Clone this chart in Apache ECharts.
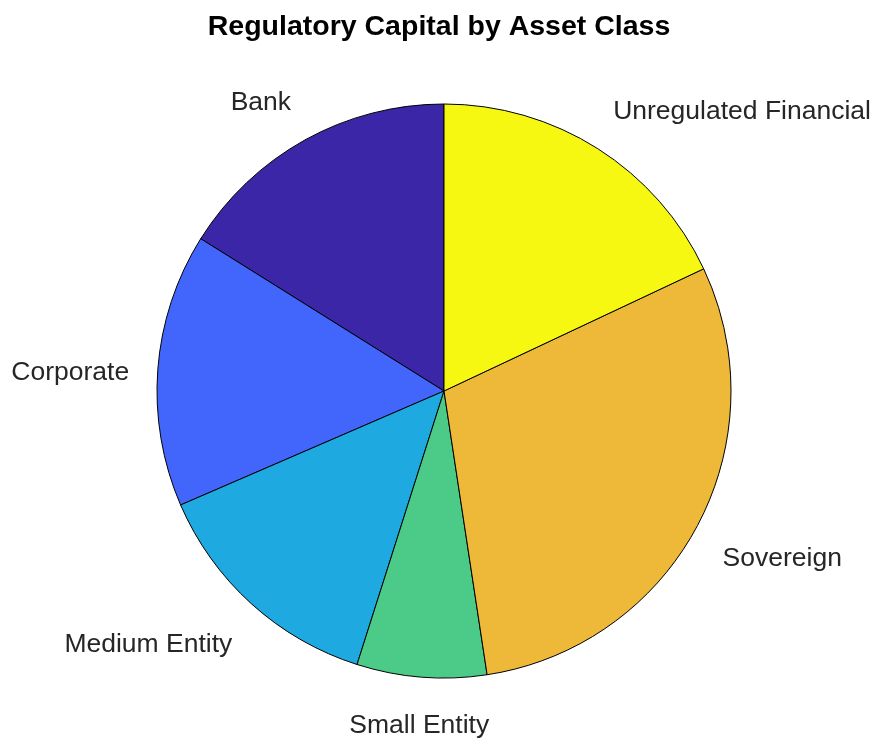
<!DOCTYPE html>
<html>
<head>
<meta charset="utf-8">
<title>Regulatory Capital by Asset Class</title>
<script src="https://cdn.jsdelivr.net/npm/echarts@6/dist/echarts.min.js"></script>
<style>
  html, body { margin: 0; padding: 0; background: #ffffff; }
  #chart { width: 878px; height: 741px; }
</style>
</head>
<body>
<div id="chart"></div>
<script>
// Asset classes, in drawing order (counter-clockwise from 12 o'clock)
const categories = ['Bank', 'Corporate', 'Medium Entity', 'Small Entity', 'Sovereign', 'Unregulated Financial'];
// Share of regulatory capital (%)
const capitalShare = [16.1, 15.4, 13.6, 7.3, 29.6, 18.0];
// Parula-style slice colours
const sliceColors = ['#3c26a8', '#4266fb', '#1ea9e0', '#4bcb87', '#eeb838', '#f6f812'];

const chart = echarts.init(document.getElementById('chart'), null, { renderer: 'canvas' });

const RADIUS = 287;
const START_ANGLE = 90;

// Mid angle (degrees, counter-clockwise) of each slice, used to pick label alignment
const total = capitalShare.reduce((a, b) => a + b, 0);
const midAngles = [];
let acc = 0;
capitalShare.forEach(v => {
  midAngles.push(START_ANGLE + (acc + v / 2) / total * 360);
  acc += v;
});

const data = categories.map((name, i) => ({
  name: name,
  value: capitalShare[i],
  itemStyle: { color: sliceColors[i] }
}));

chart.setOption({
  backgroundColor: '#ffffff',
  animation: false,
  title: {
    text: 'Regulatory Capital by Asset Class',
    left: 'center',
    top: 8,
    textStyle: {
      fontFamily: 'Liberation Sans, Arial, sans-serif',
      fontWeight: 'bold',
      fontSize: 28.5,
      color: '#000000'
    }
  },
  series: [{
    type: 'pie',
    center: [444, 391],
    radius: RADIUS,
    startAngle: START_ANGLE,
    clockwise: false,
    silent: true,
    avoidLabelOverlap: false,
    emphasis: { disabled: true },
    itemStyle: { borderColor: '#000000', borderWidth: 1 },
    label: {
      show: true,
      position: 'outside',
      alignTo: 'none',
      distanceToLabelLine: 0,
      fontFamily: 'Liberation Sans, Arial, sans-serif',
      fontSize: 26.5,
      color: '#262626',
      formatter: '{b}'
    },
    labelLine: { show: false, length: RADIUS * 0.1, length2: 0 },
    labelLayout: function (p) {
      const a = midAngles[p.dataIndex] * Math.PI / 180;
      const c = Math.cos(a), s = Math.sin(a);
      const align = Math.abs(c) < 0.15 ? 'center' : (c > 0 ? 'left' : 'right');
      let verticalAlign, dy;
      if (Math.abs(s) < 0.2) { verticalAlign = 'middle'; dy = 5; }
      else if (s > 0) { verticalAlign = 'bottom'; dy = 1; }
      else { verticalAlign = 'top'; dy = 6; }
      return { align: align, verticalAlign: verticalAlign, dy: dy };
    },
    data: data
  }]
});
</script>
</body>
</html>
